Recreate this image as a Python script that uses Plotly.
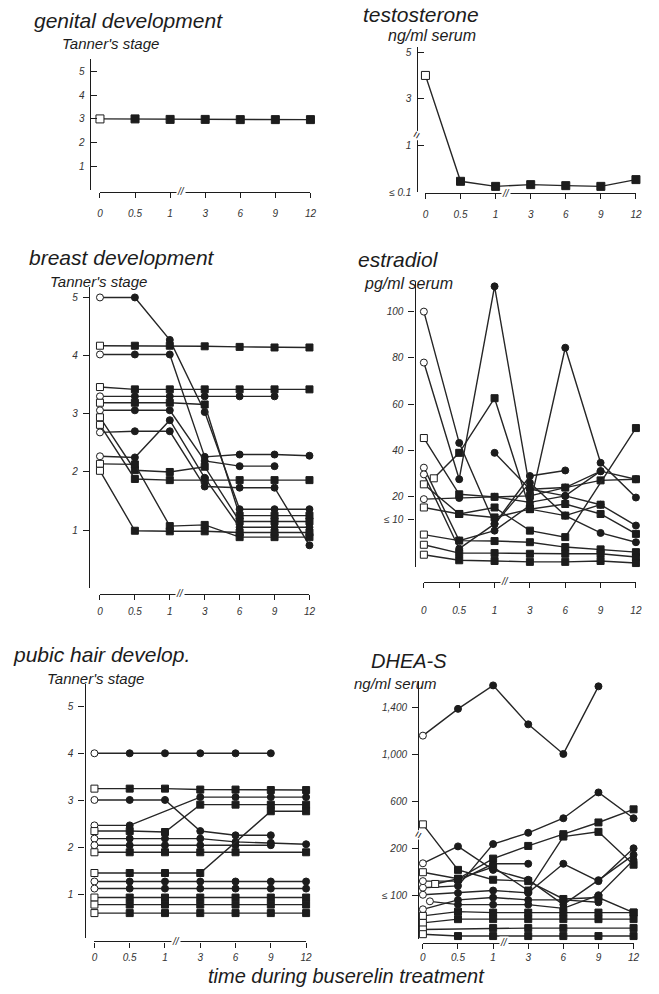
import plotly.graph_objects as go

W, H = 659, 994
FONT = "Liberation Sans"
INK = "#1c1c1c"

# ---------------- data ----------------
x_tick_labels = ["0", "0.5", "1", "3", "6", "9", "12"]   # months of buserelin treatment
x_index = [0, 1, 2, 3, 4, 5, 6]

# genital development (Tanner stage)
genital_symbols = ["square"]
genital_start_x = [0]
genital_values = [[3.0, 3.0, 2.98, 2.98, 2.97, 2.97, 2.97]]

# testosterone (broken axis: position units, 0="≤0.1", 1="1", 2="3", 3="5")
testo_symbols = ["square"]
testo_start_x = [0]
testo_values = [[2.5, 0.236, 0.128, 0.165, 0.143, 0.128, 0.272]]
testo_ticks = [0, 1, 2, 3]
testo_ticktext = ["≤ 0.1", "1", "3", "5"]

# breast development (Tanner stage)
breast_symbols = ["circle", "square", "circle", "square", "circle", "square", "circle",
                  "square", "square", "circle", "circle", "square", "square"]
breast_start_x = [0] * 13
breast_values = [
    [5.0, 5.0, 4.27, 3.03, 1.36, 1.36, 1.36],
    [4.17, 4.17, 4.17, 4.16, 4.15, 4.14, 4.14],
    [4.02, 4.02, 4.02, 2.26, 2.30, 2.30, 2.28],
    [3.46, 3.42, 3.42, 3.42, 3.42, 3.42, 3.42],
    [3.30, 3.30, 3.30, 3.30, 3.30, 3.30, None],
    [3.19, 3.19, 3.19, 3.16, 1.25, 1.25, 1.25],
    [3.06, 3.06, 3.06, 2.19, 2.10, 2.10, None],
    [2.94, 2.03, 2.00, 2.09, 1.15, 1.15, 1.15],
    [2.81, 1.88, 1.86, 1.86, 1.86, 1.86, 1.86],
    [2.68, 2.70, 2.70, 1.75, 1.73, 1.73, 0.74],
    [2.27, 2.25, 2.89, 1.90, 1.05, 1.05, 1.05],
    [2.14, 2.13, 1.07, 1.09, 0.88, 0.88, 0.88],
    [2.02, 0.99, 0.98, 0.98, 0.96, 0.96, 0.96],
]

# estradiol pg/ml (values below 10 spread out under the "≤10" mark)
estr_symbols = ["circle", "circle", "square", "circle", "square", "circle", "square",
                "circle", "square", "square", "square", "square", "circle"]
estr_start_x = [0, 0, 0, 0, 0.28, 0, 0, 0, 0, 0, 0, 0, 0]
estr_values = [
    [100.0, 43.3, 8.3, 29.0, 31.4, None, None],
    [78.0, 27.6, 110.9, 23.3, 20.4, 16.6, 7.6],
    [45.4, 21.1, 20.0, 20.4, 24.0, 27.1, 27.6],
    [32.6, 1.1, 5.4, 16.3, 84.4, 34.7, 19.7],
    [28.0, 39.0, 62.6, 14.7, 16.9, 12.6, 4.0],
    [29.7, -2.4, 8.3, 26.1, 11.9, 4.4, 0.4],
    [25.4, 12.6, 15.4, 5.4, 2.6, None, 49.7],
    [19.0, 19.5, 20.0, 17.6, 20.4, 31.1, None],
    [15.4, 12.6, 11.1, 14.7, 11.9, 16.6, None],
    [3.7, 1.1, 0.9, 0.4, -1.7, -2.7, -3.9],
    [-0.7, -4.3, -4.3, -4.6, -4.6, -4.6, -6.0],
    [-5.0, -7.4, -7.7, -8.1, -8.1, -7.7, -8.6],
    [None, None, 39.0, 23.3, 24.0, 31.1, 27.6],
]
estr_ticks = [10, 20, 40, 60, 80, 100]
estr_ticktext = ["≤ 10", "20", "40", "60", "80", "100"]

# pubic hair (Tanner stage)
pubic_symbols = ["circle", "square", "circle", "circle", "square", "circle", "circle",
                 "square", "square", "circle", "circle", "square", "square", "square"]
pubic_start_x = [0] * 14
pubic_values = [
    [4.0, 4.0, 4.0, 4.0, 4.0, 4.0, None],
    [3.25, 3.25, 3.25, 3.23, 3.23, 3.22, 3.22],
    [3.01, 3.01, 3.01, 2.35, 2.26, 2.26, None],
    [2.47, 2.47, None, 3.07, 3.07, 3.07, 3.07],
    [2.35, 2.35, 2.33, 2.91, 2.91, 2.91, 2.91],
    [2.19, 2.19, 2.19, 2.19, 2.12, 2.10, 2.07],
    [2.05, 2.05, 2.05, 2.05, 2.05, 2.05, None],
    [1.90, 1.90, 1.90, 1.90, 1.90, None, 1.90],
    [1.46, 1.46, 1.46, 1.46, None, 2.77, 2.77],
    [1.28, 1.28, 1.28, 1.28, 1.28, 1.28, 1.28],
    [1.13, 1.13, 1.13, 1.13, 1.13, 1.13, 1.13],
    [0.94, 0.94, 0.94, 0.94, 0.94, 0.94, 0.94],
    [0.79, 0.79, 0.79, 0.79, 0.79, 0.79, 0.79],
    [0.61, 0.61, 0.61, 0.61, 0.61, 0.61, 0.61],
]

# DHEA-S ng/ml (broken axis: position units 1="≤100", 2="200", 3="600", 4="1,000", 5="1,400")
dhea_symbols = ["circle", "square", "circle", "circle", "square", "circle", "square",
                "circle", "circle", "circle", "square", "square", "square", "square"]
dhea_start_x = [0, 0, 0, 0, 0, 0, 0.35, 0, 0.2, 0, 0, 0, 0, 0]
dhea_values = [
    [4.40, 4.97, 5.47, 4.64, 4.01, 5.45, None],
    [2.51, 1.54, 1.33, 1.30, 0.92, 0.95, 0.63],
    [1.68, 2.04, 1.54, 1.33, 0.80, 1.32, 1.86],
    [1.16, 1.20, 2.09, 2.33, 2.64, 3.19, 2.64],
    [1.49, 1.35, 1.60, 1.10, 2.25, 2.35, 1.65],
    [1.30, 1.30, 1.67, 1.67, None, None, None],
    [1.24, 1.35, 1.78, 2.05, 2.30, 2.55, 2.83],
    [1.01, 1.05, 1.10, 1.05, 1.67, 1.30, 2.00],
    [0.87, 0.80, 0.80, 0.80, 0.72, 1.00, 1.75],
    [0.70, 0.90, 0.95, 0.90, 0.90, 0.85, None],
    [0.56, 0.65, 0.63, 0.63, 0.63, 0.63, 0.63],
    [0.41, 0.49, 0.49, 0.49, 0.49, 0.49, 0.49],
    [0.27, None, 0.30, 0.30, 0.30, None, 0.30],
    [0.17, 0.13, 0.13, 0.13, 0.13, 0.13, 0.13],
]
dhea_ticks = [1, 2, 3, 4, 5]
dhea_ticktext = ["≤ 100", "200", "600", "1,000", "1,400"]

stage_ticks = [1, 2, 3, 4, 5]
stage_ticktext = ["1", "2", "3", "4", "5"]


# ---------------- geometry helpers (page pixels -> paper fractions) ----------------
def fx(px):
    return px / W


def fy(py):
    return 1 - py / H


panels = {
    1: dict(xl=98.3, xr=311.7, yt=58, yb=190.5, yx=88, xy=192, yr=[0, 5.54], tdir="inside", so=7),
    2: dict(xl=428.3, xr=641.7, yt=46.7, yb=192.7, yx=419.3, xy=193.5, yr=[0, 3.1], tdir="inside", so=7),
    3: dict(xl=98.3, xr=310.7, yt=288, yb=591.5, yx=87.3, xy=597, yr=[0, 5.18], tdir="outside", so=3),
    4: dict(xl=426.7, xr=641.7, yt=282.5, yb=570, yx=417.3, xy=585, yr=[-10.3, 113], tdir="outside", so=14),
    5: dict(xl=92.7, xr=307.3, yt=688.3, yb=944, yx=82.7, xy=947, yr=[0.074, 5.46], tdir="outside", so=1),
    6: dict(xl=425.7, xr=639.3, yt=685, yb=945, yx=421, xy=948.5, yr=[0.06, 5.56], tdir="outside", so=0),
}

fig = go.Figure()


def add_panel(k, symbols, starts, values, msize=7):
    for sym, x0, ys in zip(symbols, starts, values):
        xs = [x0] + x_index[1:]
        colors = ["white"] + [INK] * 6
        fig.add_trace(go.Scatter(
            x=xs, y=ys, mode="lines+markers", connectgaps=True,
            xaxis="x" if k == 1 else f"x{k}", yaxis="y" if k == 1 else f"y{k}",
            line=dict(color="#262626", width=1.4),
            marker=dict(symbol=sym, size=msize, color=colors, line=dict(color=INK, width=1)),
            cliponaxis=False, showlegend=False, hoverinfo="skip"))


add_panel(1, genital_symbols, genital_start_x, genital_values, 8)
add_panel(2, testo_symbols, testo_start_x, testo_values, 8)
add_panel(3, breast_symbols, breast_start_x, breast_values, 7)
add_panel(4, estr_symbols, estr_start_x, estr_values, 7)
add_panel(5, pubic_symbols, pubic_start_x, pubic_values, 7)
add_panel(6, dhea_symbols, dhea_start_x, dhea_values, 7)

ytick_sets = {
    1: (stage_ticks, stage_ticktext),
    2: (testo_ticks, testo_ticktext),
    3: (stage_ticks, stage_ticktext),
    4: (estr_ticks, estr_ticktext),
    5: (stage_ticks, stage_ticktext),
    6: (dhea_ticks, dhea_ticktext),
}

tickfont = dict(family=FONT, size=10, color="#333", style="italic")
layout = dict(width=W, height=H, margin=dict(l=0, r=0, t=0, b=0),
              paper_bgcolor="white", plot_bgcolor="rgba(0,0,0,0)")

for k, p in panels.items():
    xa = "xaxis" if k == 1 else f"xaxis{k}"
    ya = "yaxis" if k == 1 else f"yaxis{k}"
    tv, tt = ytick_sets[k]
    layout[xa] = dict(domain=[fx(p["xl"]), fx(p["xr"])], range=[0, 6], anchor="free",
                      position=fy(p["xy"]), tickmode="array", tickvals=x_index,
                      ticktext=x_tick_labels, ticks="outside", ticklen=5, tickwidth=1.2,
                      tickcolor=INK, showline=True, linecolor=INK, linewidth=1.4,
                      showgrid=False, zeroline=False, tickfont=tickfont,
                      ticklabelstandoff=p["so"], fixedrange=True)
    layout[ya] = dict(domain=[fy(p["yb"]), fy(p["yt"])], range=p["yr"], anchor="free",
                      position=fx(p["yx"]), tickmode="array", tickvals=tv, ticktext=tt,
                      ticks=p["tdir"], ticklen=6, tickwidth=1.2, tickcolor=INK,
                      showline=True, linecolor=INK, linewidth=1.4, showgrid=False,
                      zeroline=False, tickfont=tickfont, ticklabelstandoff=3, fixedrange=True)
fig.update_layout(**layout)

annotations = []


def text(s, px, py, size, anchor="left"):
    annotations.append(dict(text=s, x=fx(px), y=fy(py), xref="paper", yref="paper",
                            xanchor=anchor, yanchor="middle", showarrow=False,
                            font=dict(family=FONT, size=size, color=INK, style="italic")))


text("genital development", 29, 20, 21)
text("Tanner's stage", 58, 43, 15)
text("testosterone", 363, 14, 21)
text("ng/ml serum", 388, 35, 16)
text("breast development", 24, 258, 21)
text("Tanner's stage", 46, 282, 15)
text("estradiol", 358, 260, 21)
text("pg/ml serum", 364, 284, 16)
text("pubic hair develop.", 8, 658, 21)
text("Tanner's stage", 43, 682, 15)
text("DHEA-S", 371, 665, 20)
text("ng/ml serum", 354, 687, 15)
text("time during buserelin treatment", 206, 982, 20)

# axis break marks
for k, p in panels.items():
    annotations.append(dict(text="//", x=2.3, y=fy(p["xy"]),
                            xref="x" if k == 1 else f"x{k}", yref="paper",
                            xanchor="center", yanchor="middle", showarrow=False,
                            bgcolor="white", borderpad=0,
                            font=dict(family=FONT, size=10, color=INK, style="italic")))
for (px, py) in [(419.3, 135), (421, 840)]:
    annotations.append(dict(text="=", x=fx(px), y=fy(py), xref="paper", yref="paper",
                            xanchor="center", yanchor="middle", showarrow=False,
                            bgcolor="white", borderpad=0, textangle=-60,
                            font=dict(family=FONT, size=12, color=INK)))

fig.update_layout(annotations=annotations)
# the page's default 8px body margin would push the figure off the 659x994 window
fig.write_html("out.html", config={"displayModeBar": False},
               post_script="document.body.style.margin='0px';")
